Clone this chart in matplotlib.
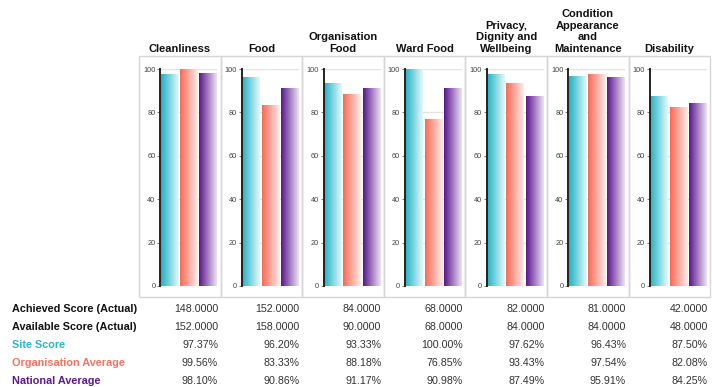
import numpy as np
import matplotlib
matplotlib.use("Agg")
import matplotlib.pyplot as plt
from matplotlib.colors import LinearSegmentedColormap
from matplotlib.patches import Rectangle

plt.rcParams['font.family'] = ['Liberation Sans', 'DejaVu Sans']

# data
categories = ['Cleanliness', 'Food', 'Organisation\nFood', 'Ward Food',
              'Privacy,\nDignity and\nWellbeing',
              'Condition\nAppearance\nand\nMaintenance', 'Disability']
achieved = [148, 152, 84, 68, 82, 81, 42]
available = [152, 158, 90, 68, 84, 84, 48]
site_score = [97.37, 96.20, 93.33, 100.00, 97.62, 96.43, 87.50]
org_avg = [99.56, 83.33, 88.18, 76.85, 93.43, 97.54, 82.08]
nat_avg = [98.10, 90.86, 91.17, 90.98, 87.49, 95.91, 84.25]

series = [site_score, org_avg, nat_avg]
series_names = ['Site Score', 'Organisation Average', 'National Average']
series_colors = ['#1fb3c6', '#f96a56', '#5a168e']
fade_colors = ['#e6f8fa', '#ffeceb', '#ece3f3']

W, H = 712, 387
fig = plt.figure(figsize=(W / 100, H / 100), dpi=100)


def fx(x):
    return x / W


def fy(y):
    return 1 - y / H


panel_left = 139.0
panel_w = 81.6
panel_top = 55.5
panel_bottom = 297.0

grad = np.linspace(0, 1, 64).reshape(1, -1)
cmaps = [LinearSegmentedColormap.from_list('g%d' % i, [c, f])
         for i, (c, f) in enumerate(zip(series_colors, fade_colors))]

for i, cat in enumerate(categories):
    pl = panel_left + i * panel_w
    # panel border
    fig.patches.append(Rectangle((fx(pl), fy(panel_bottom)), panel_w / W,
                                 (panel_bottom - panel_top) / H,
                                 transform=fig.transFigure, fill=False,
                                 edgecolor='#d6d6d6', lw=1.0))
    # title
    fig.text(fx(pl + panel_w / 2), fy(53.5), cat, ha='center', va='bottom',
             fontsize=8, fontweight='bold', color='#111111', linespacing=1.18)

    ax = fig.add_axes([fx(pl + 21.3), fy(286), 57.0 / W, (286 - 69) / H])
    for j, vals in enumerate(series):
        v = vals[i]
        ax.imshow(grad, cmap=cmaps[j], aspect='auto', interpolation='bilinear',
                  extent=(j - 0.455, j + 0.455, 0, v), zorder=2)
    ax.set_xlim(-0.47, 2.47)
    ax.set_ylim(0, 100)
    ax.set_yticks([0, 20, 40, 60, 80, 100])
    ax.set_xticks([])
    ax.grid(axis='y', color='#e3e3e3', lw=1.0, zorder=0)
    ax.set_axisbelow(True)
    for s in ['top', 'right', 'bottom']:
        ax.spines[s].set_visible(False)
    ax.spines['left'].set_color('#222222')
    ax.spines['left'].set_linewidth(1.4)
    ax.spines['left'].set_zorder(3)
    ax.tick_params(axis='y', length=2, width=0.6, pad=1.5, labelsize=5.3,
                   labelcolor='#444444', color='#666666')

# table under the panels
row_y = [308.5, 326.7, 344.5, 362.7, 381.5]
row_labels = ['Achieved Score (Actual)', 'Available Score (Actual)'] + series_names
row_colors = ['#111111', '#111111'] + ['#2bb6cc', '#f8735f', '#5a1a8c']
row_values = [['%.4f' % v for v in achieved],
              ['%.4f' % v for v in available],
              ['%.2f%%' % v for v in site_score],
              ['%.2f%%' % v for v in org_avg],
              ['%.2f%%' % v for v in nat_avg]]

for y, lab, col, vals in zip(row_y, row_labels, row_colors, row_values):
    fig.text(fx(11.5), fy(y), lab, ha='left', va='center', fontsize=7.8,
             fontweight='bold', color=col)
    for i, v in enumerate(vals):
        pr = panel_left + (i + 1) * panel_w
        fig.text(fx(pr - 2.5), fy(y), v, ha='right', va='center',
                 fontsize=7.7, color='#333333')

fig.savefig('out.png', dpi=100)
